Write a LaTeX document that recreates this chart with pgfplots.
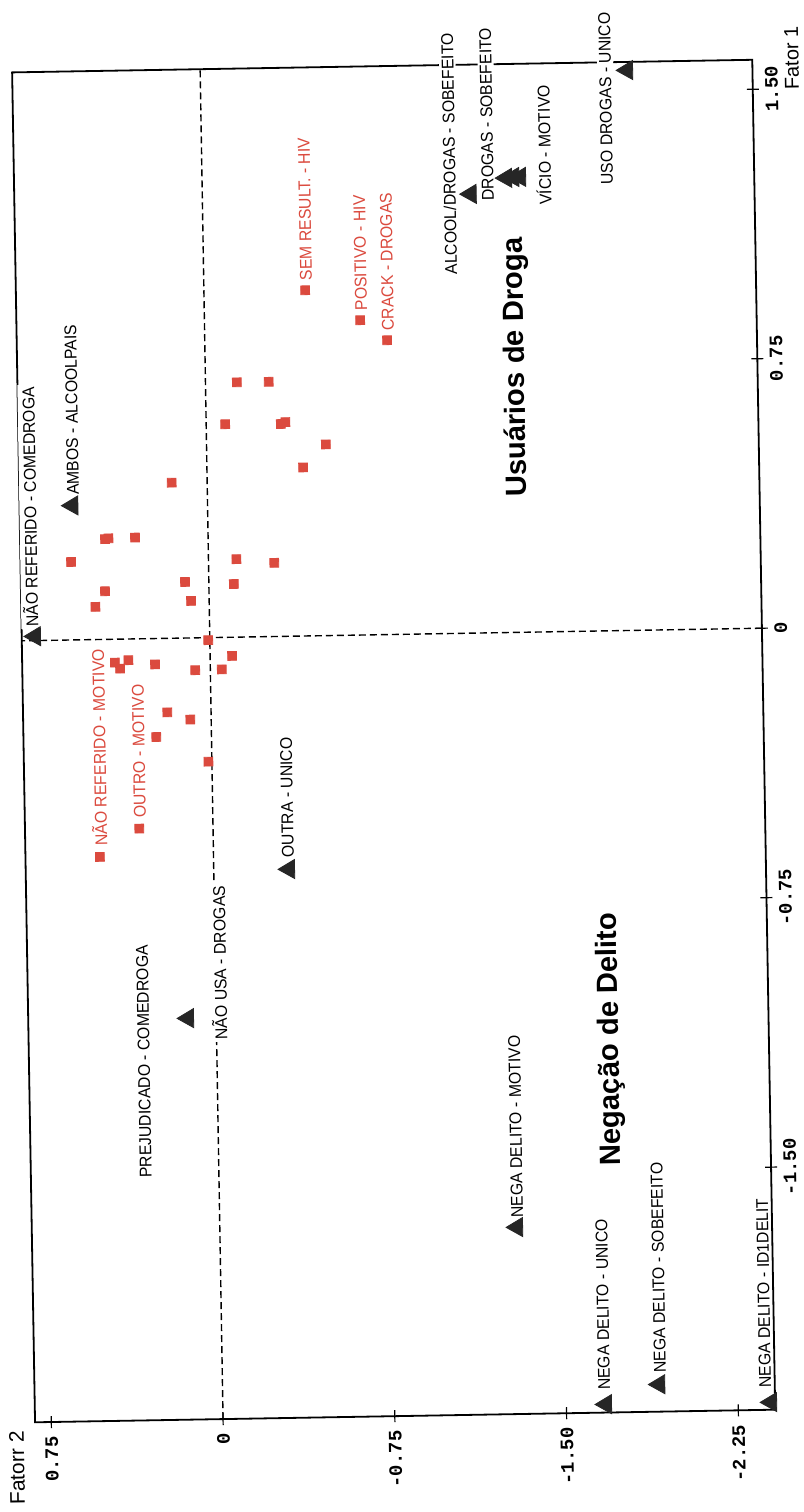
\documentclass[border=0pt]{standalone}
\usepackage{fontspec}
\setmainfont{Liberation Sans}
\setmonofont{Liberation Mono}
\newfontfamily\lblfont{Liberation Sans}[FakeStretch=0.93]
\usepackage{pgfplots}
\pgfplotsset{compat=1.18}
\definecolor{sqred}{RGB}{219,74,62}
\definecolor{tridark}{RGB}{38,38,38}

% category points of the two factors (Fator 2, Fator 1)
\pgfplotstableread{
F2 F1
-0.137 0.709
-0.276 0.709
-0.083 0.593
-0.326 0.591
-0.346 0.596
-0.521 0.532
-0.420 0.469
0.155 0.433
0.450 0.279
0.435 0.281
0.319 0.282
0.600 0.217
-0.122 0.217
-0.287 0.205
0.104 0.156
-0.109 0.148
0.454 0.134
0.079 0.103
0.497 0.091
0.007 -0.007
0.416 -0.065
0.394 -0.082
0.357 -0.059
0.241 -0.072
0.066 -0.090
-0.050 -0.089
-0.096 -0.052
0.191 -0.206
0.091 -0.227
0.241 -0.274
0.015 -0.345
0.322 -0.528
0.496 -0.605
-0.442 0.962
-0.680 0.876
-0.796 0.819
}\squares

\pgfplotstableread{
F2 F1
0.763 0.012
0.590 0.374
-1.172 1.222
-1.328 1.265
-1.359 1.267
-1.389 1.267
-1.864 1.559
-0.329 -0.648
0.123 -1.058
-1.298 -1.655
-1.673 -2.152
-1.907 -2.099
-2.394 -2.154
}\triangles

% the sheet sits turned a little under one degree
\def\tilt{90.97}

\tikzset{
  lbl/.style={rotate=\tilt, anchor=west, inner sep=1pt, fill=white,
    font=\lblfont\fontsize{8.5}{10}\selectfont},
  lblred/.style={lbl, text=sqred},
  bigtitle/.style={rotate=\tilt, anchor=base east, inner sep=0pt,
    font=\bfseries\fontsize{14.6}{17}\selectfont},
}

\begin{document}
\begin{tikzpicture}
\useasboundingbox (0pt,0pt) rectangle (402pt,-756pt);
\begin{axis}[
  x={(-114.5pt,-1.95pt)}, y={(-3.05pt,179.65pt)},
  at={(104.9pt,-318.8pt)}, anchor=origin,
  xmin=-2.411, xmax=0.821, ymin=-2.175, ymax=1.582,
  clip=false,
  axis line style={line width=0.9pt, black},
  xtick={0.75,0,-0.75,-1.5,-2.25},
  xticklabels={0.75,0,-0.75,-1.50,-2.25},
  ytick={1.5,0.75,0,-0.75,-1.5},
  yticklabels={1.50,0.75,0,-0.75,-1.50},
  xtick pos=left, ytick pos=left, yticklabel pos=right,
  tick align=center, major tick length=6pt,
  tick style={line width=0.6pt, black},
  xticklabel style={rotate=\tilt, anchor=east, inner sep=0pt,
    font=\ttfamily\bfseries\fontsize{9.5}{11}\selectfont},
  yticklabel style={rotate=\tilt, anchor=north, inner sep=0pt,
    font=\ttfamily\bfseries\fontsize{9.5}{11}\selectfont},
  xticklabel shift=4pt, yticklabel shift=3pt,
]
% reference lines through the origin
\draw[black, line width=0.7pt, dash pattern=on 3.5pt off 2pt]
  (axis cs:0,-2.175) -- (axis cs:0,1.582);
\draw[black, line width=0.7pt, dash pattern=on 3.5pt off 2pt]
  (axis cs:-2.411,0) -- (axis cs:0.821,0);

% point labels
\node[lbl] at (axis cs:0.780,0.032) {NÃO REFERIDO - COMEDROGA};
\node[lbl] at (axis cs:0.586,0.397) {AMBOS - ALCOOLPAIS};
\node[lbl] at (axis cs:-1.080,0.992) {ALCOOL/DROGAS - SOBEFEITO};
\node[lbl] at (axis cs:-1.247,1.196) {DROGAS - SOBEFEITO};
\node[lbl] at (axis cs:-1.492,1.182) {VÍCIO - MOTIVO};
\node[lbl] at (axis cs:-1.768,1.235) {USO DROGAS - UNICO};
\node[lbl] at (axis cs:-0.325,-0.623) {OUTRA - UNICO};
\node[lbl] at (axis cs:0.319,-1.507) {PREJUDICADO - COMEDROGA};
\node[lbl] at (axis cs:-0.015,-1.126) {NÃO USA - DROGAS};
\node[lbl] at (axis cs:-1.299,-1.636) {NEGA DELITO - MOTIVO};
\node[lbl] at (axis cs:-1.666,-2.119) {NEGA DELITO - UNICO};
\node[lbl] at (axis cs:-1.911,-2.074) {NEGA DELITO - SOBEFEITO};
\node[lbl] at (axis cs:-2.369,-2.121) {NEGA DELITO - ID1DELIT};
\node[lblred] at (axis cs:-0.447,0.982) {SEM RESULT. - HIV};
\node[lblred] at (axis cs:-0.685,0.896) {POSITIVO - HIV};
\node[lblred] at (axis cs:-0.801,0.839) {CRACK - DROGAS};
\node[lblred] at (axis cs:0.495,-0.581) {NÃO REFERIDO - MOTIVO};
\node[lblred] at (axis cs:0.318,-0.505) {OUTRO - MOTIVO};

% group titles
\node[bigtitle] at (axis cs:-1.393,1.100) {Usuários de Droga};
\node[bigtitle] at (axis cs:-1.754,-0.783) {Negação de Delito};

% markers
\addplot[only marks, mark=square*, mark size=2.2pt,
  mark options={rotate=1, fill=sqred, draw=sqred}] table[x=F2, y=F1] {\squares};
\addplot[only marks, mark=triangle*, mark size=5.5pt,
  mark options={rotate=\tilt, fill=tridark, draw=tridark}] table[x=F2, y=F1] {\triangles};
\end{axis}
% axis titles
\node[rotate=\tilt, anchor=base west, inner sep=0pt, font=\fontsize{10.5}{12}\selectfont]
  at (12.5pt,-752.5pt) {Fatorr 2};
\node[rotate=\tilt, anchor=base west, inner sep=0pt, font=\fontsize{10}{12}\selectfont]
  at (399.5pt,-45pt) {Fator 1};
\end{tikzpicture}
\end{document}
